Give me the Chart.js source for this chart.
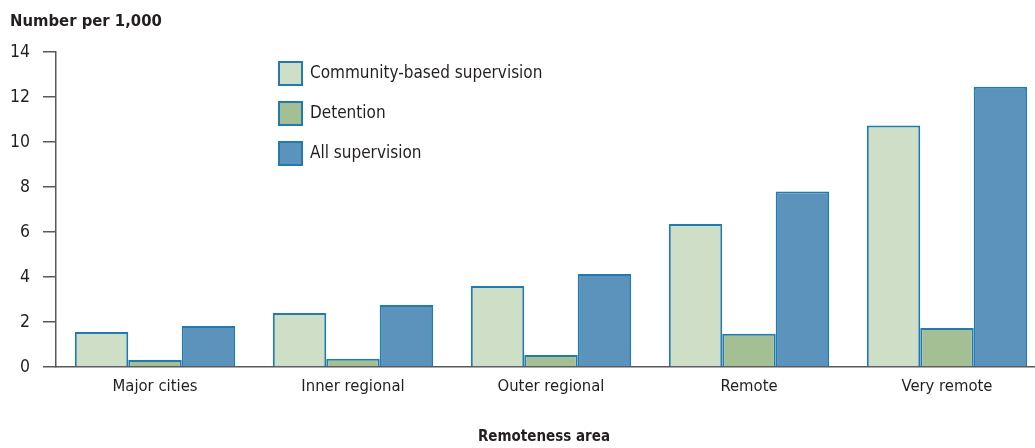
<!DOCTYPE html>
<html>
<head>
<meta charset="utf-8">
<script src="https://cdn.jsdelivr.net/npm/chart.js@4.4.1/dist/chart.umd.min.js"></script>
<style>
html, body { margin: 0; padding: 0; overflow: hidden; background: #fff; }
#wrap { width: 1046px; height: 448px; }
</style>
</head>
<body>
<div id="wrap"><canvas id="myChart" width="1046" height="448"></canvas></div>
<script>
const areas = ['Major cities', 'Inner regional', 'Outer regional', 'Remote', 'Very remote'];
const community = [1.56, 2.4, 3.6, 6.36, 10.73];
const detention = [0.31, 0.37, 0.53, 1.48, 1.73];
const allSupervision = [1.82, 2.76, 4.13, 7.8, 12.46];
const seriesNames = ['Community-based supervision', 'Detention', 'All supervision'];
const yTitle = 'Number per 1,000';
const xTitle = 'Remoteness area';

const fam = "'Liberation Sans Narrow', 'DejaVu Sans Condensed', sans-serif";
const ink = '#231f20';
const axisCol = '#58595b';
const edge = '#1f7bb0';

// title + legend drawn on top of the plot
const extras = {
    id: 'extras',
    afterDraw(chart) {
        const ctx = chart.ctx;
        ctx.save();
        ctx.fillStyle = ink;
        ctx.textBaseline = 'alphabetic';
        ctx.font = 'bold 16.5px ' + fam;
        ctx.fillText(yTitle, 10, 26);

        ctx.font = 'bold 15px ' + fam;
        ctx.textAlign = 'center';
        ctx.fillText(xTitle, 544, 441);

        ctx.textAlign = 'left';
        ctx.textBaseline = 'middle';
        ctx.font = '17px ' + fam;
        chart.data.datasets.forEach((ds, i) => {
            const y = 62 + i * 40;
            ctx.fillStyle = ds.backgroundColor;
            ctx.fillRect(279, y, 23, 23);
            ctx.strokeStyle = edge;
            ctx.lineWidth = 2;
            ctx.strokeRect(279, y, 23, 23);
            ctx.fillStyle = ink;
            ctx.fillText(ds.label, 310, y + 12);
        });
        ctx.restore();
    }
};

new Chart(document.getElementById('myChart'), {
    type: 'bar',
    data: {
        labels: areas,
        datasets: [{
            label: seriesNames[0],
            data: community,
            backgroundColor: '#cfdec6'
        }, {
            label: seriesNames[1],
            data: detention,
            backgroundColor: '#a4bf94'
        }, {
            label: seriesNames[2],
            data: allSupervision,
            backgroundColor: '#5b93bd'
        }]
    },
    options: {
        responsive: false,
        animation: false,
        datasets: {
            bar: {
                borderColor: edge,
                borderWidth: 2,
                categoryPercentage: 0.81,
                barPercentage: 1.0
            }
        },
        layout: {
            padding: { top: 52, right: 0, left: 0, bottom: 0 }
        },
        plugins: {
            legend: { display: false },
            tooltip: { enabled: false }
        },
        scales: {
            x: {
                grid: { display: false, drawTicks: false },
                border: { display: true, color: axisCol, width: 1.5 },
                ticks: { color: ink, font: { family: fam, size: 16.5 }, padding: 10 },
                afterFit(scale) { scale.height = 81; }
            },
            y: {
                min: 0,
                max: 14,
                ticks: { stepSize: 2, color: ink, font: { family: fam, size: 17.5 }, padding: 13 },
                grid: { drawOnChartArea: false, drawTicks: true, tickLength: 13, color: axisCol, lineWidth: 1.5 },
                border: { display: true, color: axisCol, width: 1.5 },
                afterFit(scale) { scale.width = 56; }
            }
        }
    },
    plugins: [extras]
});
</script>
</body>
</html>
